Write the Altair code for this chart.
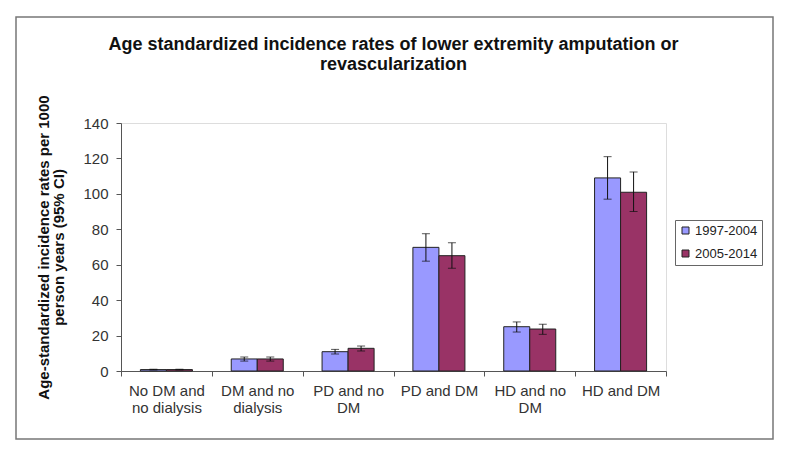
import altair as alt
import pandas as pd

categories = ["No DM and|no dialysis", "DM and no|dialysis", "PD and no|DM",
              "PD and DM", "HD and no|DM", "HD and DM"]
periods = ["1997-2004", "2005-2014"]
rate_1997 = [0.8, 6.8, 10.9, 69.8, 25.0, 109.0]
low_1997 = [0.6, 5.6, 9.6, 62.0, 22.0, 97.0]
high_1997 = [1.0, 7.9, 12.2, 77.5, 27.7, 121.0]
rate_2005 = [0.8, 6.8, 12.8, 65.1, 23.7, 100.9]
low_2005 = [0.6, 5.6, 11.3, 58.0, 20.7, 90.0]
high_2005 = [1.0, 7.9, 14.1, 72.4, 26.4, 112.4]
y_ticks = [0, 20, 40, 60, 80, 100, 120, 140]
colors = ["#9999FF", "#993366"]

rows = []
for i, c in enumerate(categories):
    rows.append({"cat": c, "period": periods[0], "rate": rate_1997[i], "lo": low_1997[i], "hi": high_1997[i]})
    rows.append({"cat": c, "period": periods[1], "rate": rate_2005[i], "lo": low_2005[i], "hi": high_2005[i]})
df = pd.DataFrame(rows)

FONT = "Liberation Sans"

xaxis = alt.Axis(title=None, labelAngle=0, labelExpr="split(datum.label, '|')",
                 tickBand="extent", tickSize=5, tickColor="#555", domainColor="#555",
                 labelFontSize=15, labelColor="#333", labelLineHeight=17,
                 labelPadding=7, labelFont=FONT)
yaxis = alt.Axis(values=y_ticks, grid=False, labelOverlap=False,
                 title=["Age-standardized incidence rates per 1000", "person years (95% CI)"],
                 titleFontSize=15, titleFont=FONT, titleFontWeight="bold",
                 titleColor="#111", titlePadding=16, titleLineHeight=15,
                 tickSize=5, tickColor="#555", domainColor="#555",
                 labelFontSize=15, labelColor="#333", labelPadding=8, labelFont=FONT)
xscale = alt.Scale(paddingInner=0, paddingOuter=0)
yscale = alt.Scale(domain=[0, 140])


def xe():
    return alt.X("cat:N", sort=categories, scale=xscale, axis=xaxis)


xoff = alt.XOffset("period:N", sort=periods, scale=alt.Scale(paddingInner=0, paddingOuter=0.746))

bars = alt.Chart(df).mark_bar(stroke="#222", strokeWidth=1).encode(
    x=xe(),
    xOffset=xoff,
    y=alt.Y("rate:Q", scale=yscale, axis=yaxis),
    color=alt.Color("period:N", sort=periods, scale=alt.Scale(domain=periods, range=colors),
                    legend=alt.Legend(title=None, orient="none", legendX=554, legendY=97,
                                      symbolType="square", symbolSize=49, symbolStrokeColor="#222",
                                      symbolStrokeWidth=1, labelFontSize=13, labelColor="#222",
                                      labelFont=FONT, rowPadding=9, padding=4,
                                      strokeColor="#666", labelOffset=3)),
)

rules = alt.Chart(df).mark_rule(color="#111", strokeWidth=1).encode(
    x=xe(), xOffset=xoff,
    y=alt.Y("lo:Q", scale=yscale, axis=yaxis), y2="hi:Q")

caps_hi = alt.Chart(df).mark_tick(color="#111", thickness=1, size=8, orient="horizontal").encode(
    x=xe(), xOffset=xoff, y=alt.Y("hi:Q", scale=yscale, axis=yaxis))
caps_lo = alt.Chart(df).mark_tick(color="#111", thickness=1, size=8, orient="horizontal").encode(
    x=xe(), xOffset=xoff, y=alt.Y("lo:Q", scale=yscale, axis=yaxis))

frame = alt.Chart(pd.DataFrame({"k": [0]})).mark_rect(fill=None, stroke="#777", strokeWidth=1.5).encode(
    x=alt.value(-105), x2=alt.value(652), y=alt.value(-106), y2=alt.value(316))

chart = alt.layer(frame, bars, rules, caps_hi, caps_lo).properties(
    width=545, height=248,
    title=alt.TitleParams(
        ["Age standardized incidence rates of lower extremity amputation or", "revascularization"],
        fontSize=18, font=FONT, fontWeight="bold", color="#111",
        anchor="middle", offset=-58, lineHeight=20),
    autosize=alt.AutoSizeParams(type="none"),
    padding={"left": 113, "top": 115, "right": 110, "bottom": 80},
).configure_view(stroke="#999", strokeWidth=1).configure(background="white")

chart.save("out.html", embed_options={"renderer": "svg", "actions": False})
